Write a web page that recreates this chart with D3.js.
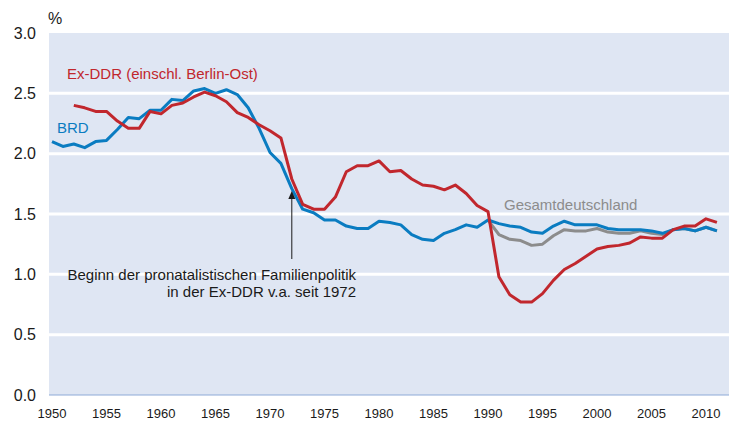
<!DOCTYPE html>
<html><head><meta charset="utf-8">
<script src="https://cdn.jsdelivr.net/npm/d3@7"></script>
<style>body{margin:0;background:#fff;}svg{display:block;font-family:"Liberation Sans",Arial,sans-serif;}</style>
</head><body><svg id="c" width="729" height="425"></svg>
<script>
const yearsBRD = d3.range(1950, 2012);
const brd = [2.10,2.06,2.08,2.05,2.10,2.11,2.20,2.30,2.29,2.36,2.36,2.45,2.44,2.52,2.54,2.50,2.53,2.49,2.38,2.21,2.01,1.92,1.71,1.54,1.51,1.45,1.45,1.40,1.38,1.38,1.44,1.43,1.41,1.33,1.29,1.28,1.34,1.37,1.41,1.39,1.45,1.42,1.40,1.39,1.35,1.34,1.40,1.44,1.41,1.41,1.41,1.38,1.37,1.37,1.37,1.36,1.34,1.37,1.38,1.36,1.39,1.36];
const yearsDDR = d3.range(1952, 2012);
const ddr = [2.40,2.38,2.35,2.35,2.27,2.21,2.21,2.35,2.33,2.40,2.42,2.47,2.51,2.48,2.43,2.34,2.30,2.24,2.19,2.13,1.79,1.58,1.54,1.54,1.64,1.85,1.90,1.90,1.94,1.85,1.86,1.79,1.74,1.73,1.70,1.74,1.67,1.57,1.52,0.98,0.83,0.77,0.77,0.84,0.95,1.04,1.09,1.15,1.21,1.23,1.24,1.26,1.31,1.30,1.30,1.37,1.40,1.40,1.46,1.43];
const yearsGes = d3.range(1990, 2012);
const ges = [1.45,1.33,1.29,1.28,1.24,1.25,1.32,1.37,1.36,1.36,1.38,1.35,1.34,1.34,1.36,1.34,1.33,1.37,1.38,1.36,1.39,1.36];
const xTicks = d3.range(1950, 2011, 5);
const yTicks = [0,0.5,1.0,1.5,2.0,2.5,3.0];

const svg = d3.select("#c");
const x = d3.scaleLinear().domain([1950, 2010]).range([52, 706]);
const y = d3.scaleLinear().domain([0, 3]).range([395, 33]);
const left = 49, right = 729;

svg.append("rect").attr("x", left).attr("y", y(3)).attr("width", right-left).attr("height", y(0)-y(3)).attr("fill", "#dfe6f3");
svg.append("g").selectAll("line").data(yTicks.filter(v => v>0 && v<3)).join("line")
  .attr("x1", left).attr("x2", right).attr("y1", d=>y(d)).attr("y2", d=>y(d))
  .attr("stroke", "#fff").attr("stroke-width", 3);
svg.append("line").attr("x1", left).attr("x2", right).attr("y1", y(0)).attr("y2", y(0)).attr("stroke", "#8ea9d8").attr("stroke-width", 1.2);

svg.append("g").selectAll("text").data(yTicks).join("text")
  .attr("x", 36).attr("y", d=>y(d)).attr("dy", "0.35em").attr("text-anchor", "end")
  .attr("font-size", 16).attr("fill", "#1a1a1a").text(d=>d3.format(".1f")(d));
svg.append("text").attr("x", 48).attr("y", 24).attr("font-size", 16).attr("fill", "#1a1a1a").text("%");
svg.append("g").selectAll("text").data(xTicks).join("text")
  .attr("x", d=>x(d)).attr("y", 413).attr("dy", "0.35em").attr("text-anchor", "middle")
  .attr("font-size", 13).attr("fill", "#1a1a1a").text(d=>d);

const line = d3.line().x(d=>x(d[0])).y(d=>y(d[1]));
const z = (ys, vs) => ys.map((yr,i)=>[yr, vs[i]]);
svg.append("path").datum(z(yearsGes, ges)).attr("d", line).attr("fill","none").attr("stroke","#8c8c8c").attr("stroke-width",3).attr("stroke-linejoin","round");
svg.append("path").datum(z(yearsBRD, brd)).attr("d", line).attr("fill","none").attr("stroke","#0a7cc1").attr("stroke-width",3).attr("stroke-linejoin","round");
svg.append("path").datum(z(yearsDDR, ddr)).attr("d", line).attr("fill","none").attr("stroke","#c1272d").attr("stroke-width",3).attr("stroke-linejoin","round");

svg.append("text").attr("x", 67).attr("y", 79).attr("font-size", 15).attr("fill", "#c1272d").text("Ex-DDR (einschl. Berlin-Ost)");
svg.append("text").attr("x", 57).attr("y", 133).attr("font-size", 15).attr("fill", "#0a7cc1").text("BRD");
svg.append("text").attr("x", 504).attr("y", 210).attr("font-size", 15).attr("fill", "#8c8c8c").text("Gesamtdeutschland");

// annotation arrow
const ax = x(1972);
svg.append("line").attr("x1", ax).attr("x2", ax).attr("y1", 259).attr("y2", 198).attr("stroke", "#1a1a1a").attr("stroke-width", 1);
svg.append("path").attr("d", `M${ax},${191} L${ax-3.5},${199} L${ax+3.5},${199} Z`).attr("fill", "#1a1a1a");
svg.append("text").attr("x", 356).attr("y", 280).attr("text-anchor","end").attr("font-size", 15).attr("fill", "#1a1a1a").text("Beginn der pronatalistischen Familienpolitik");
svg.append("text").attr("x", 356).attr("y", 297).attr("text-anchor","end").attr("font-size", 15).attr("fill", "#1a1a1a").text("in der Ex-DDR v.a. seit 1972");
</script></body></html>
